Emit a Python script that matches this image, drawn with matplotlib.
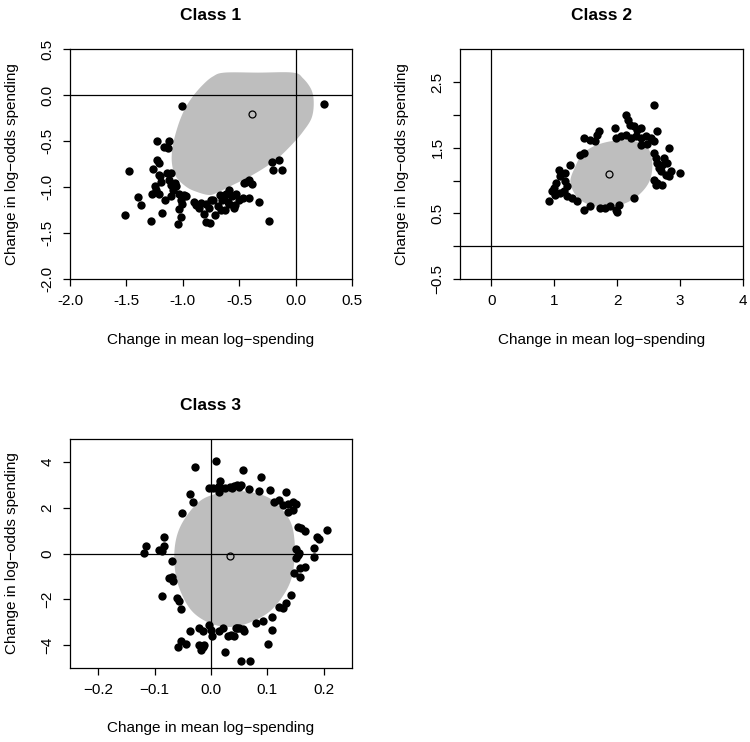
import numpy as np
import matplotlib
matplotlib.use("Agg")
import matplotlib.pyplot as plt

plt.rcParams['font.family'] = ['Liberation Sans', 'DejaVu Sans']

# ---- Class 1 ----
c1_x = [-1.51, -1.48, -1.40, -1.37, -1.28, -1.27, -1.26, -1.23, -1.23, -1.21,
        -1.25, -1.24, -1.21, -1.21, -1.19, -1.18, -1.17, -1.16, -1.13, -1.12,
        -1.14, -1.12, -1.10, -1.09, -1.10, -1.07, -1.06, -1.01, -1.03, -1.02,
        -1.01, -1.03, -1.02, -1.04, -0.97, -0.90, -0.88, -0.86, -0.84, -0.81,
        -0.79, -0.76, -0.79, -0.77, -0.73, -0.71, -0.69, -0.67, -0.65, -0.63,
        -0.62, -0.59, -0.56, -0.59, -0.54, -0.53, -0.50, -0.47, -0.55, -0.46,
        -0.44, -0.41, -0.39, -0.41, -0.32, -0.24, -0.21, -0.20, -0.15, -0.12,
        0.25, -1.10, -1.20, -0.99, -0.75, -0.66, -0.63, -0.60]
c1_y = [-1.30, -0.82, -1.11, -1.20, -1.37, -1.07, -0.80, -0.50, -0.71, -0.74,
        -0.99, -1.03, -1.07, -0.87, -0.94, -1.28, -0.56, -1.14, -0.57, -0.50,
        -0.85, -0.92, -0.98, -1.03, -1.10, -0.95, -0.99, -0.12, -1.07, -1.14,
        -1.18, -1.24, -1.33, -1.40, -1.10, -1.16, -1.19, -1.23, -1.17, -1.29,
        -1.38, -1.39, -1.18, -1.23, -1.14, -1.30, -1.21, -1.09, -1.14, -1.25,
        -1.07, -1.18, -1.10, -1.03, -1.19, -1.07, -1.14, -1.12, -1.23, -0.95,
        -0.94, -0.92, -0.97, -1.12, -1.16, -1.37, -0.73, -0.81, -0.70, -0.81,
        -0.10, -0.85, -0.88, -1.09, -1.14, -1.25, -1.09, -1.16]
c1_center = (-0.39, -0.20)
c1_region_x = [-0.630, -0.33, -0.022, 0.066, 0.141, 0.161, 0.141, 0.066, -0.022,
               -0.141, -0.260, -0.408, -0.556, -0.675, -0.764, -0.882, -0.971,
               -1.060, -1.096, -1.090, -1.045, -0.986, -0.912, -0.823, -0.734]
c1_region_y = [0.246, 0.246, 0.246, 0.184, 0.057, -0.088, -0.251, -0.396, -0.523,
               -0.668, -0.777, -0.886, -0.977, -1.049, -1.086, -1.049, -0.995,
               -0.886, -0.741, -0.560, -0.342, -0.160, -0.015, 0.112, 0.203]

# ---- Class 2 ----
c2_x = [2.589, 2.136, 2.173, 2.205, 2.269, 2.322, 2.375, 1.960, 2.642, 1.710,
        1.683, 1.470, 1.577, 1.656, 1.976, 2.056, 2.136, 2.216, 2.296, 2.375,
        2.455, 2.535, 2.375, 2.482, 2.589, 2.828, 2.589, 2.615, 2.642, 2.748,
        2.802, 2.722, 2.668, 2.695, 2.775, 2.855, 3.004, 2.828, 2.589, 2.642,
        2.615, 2.722, 1.417, 1.470, 1.257, 1.071, 1.097, 1.033, 0.991, 1.177,
        1.177, 1.204, 1.150, 0.964, 1.017, 1.097, 1.204, 1.284, 1.364, 0.911,
        1.470, 1.577, 1.736, 1.816, 1.896, 1.976, 2.029, 2.269, 2.003]
c2_y = [2.149, 2.006, 1.929, 1.853, 1.828, 1.777, 1.802, 1.802, 1.751, 1.751,
        1.700, 1.649, 1.624, 1.598, 1.649, 1.675, 1.700, 1.649, 1.675, 1.649,
        1.675, 1.649, 1.547, 1.558, 1.598, 1.496, 1.420, 1.344, 1.267, 1.344,
        1.267, 1.242, 1.191, 1.140, 1.089, 1.140, 1.114, 1.063, 1.012, 0.962,
        0.936, 0.936, 1.395, 1.420, 1.242, 1.165, 1.063, 0.962, 0.885, 1.114,
        0.987, 0.911, 0.834, 0.834, 0.783, 0.809, 0.758, 0.732, 0.681, 0.681,
        0.554, 0.605, 0.579, 0.579, 0.605, 0.554, 0.630, 0.732, 0.528]
c2_center = (1.88, 1.10)
c2_region_x = [1.257, 1.337, 1.443, 1.630, 1.896, 2.162, 2.375, 2.509, 2.562,
               2.535, 2.429, 2.242, 2.003, 1.736, 1.497, 1.337]
c2_region_y = [0.987, 1.216, 1.395, 1.522, 1.598, 1.614, 1.573, 1.471, 1.267,
               1.038, 0.860, 0.707, 0.615, 0.595, 0.656, 0.783]

# ---- Class 3 ----
c3_x = [-0.118, -0.115, -0.092, -0.087, -0.083, -0.084, -0.069, -0.074, -0.069, -0.068,
        -0.086, -0.061, -0.057, -0.053, -0.052, -0.037, -0.031, -0.028, -0.038, -0.021,
        -0.015, -0.003, 0.000, 0.002, 0.015, 0.021, 0.030, 0.041, 0.047, -0.053,
        -0.044, -0.059, -0.021, -0.014, -0.018, -0.012, 0.025, 0.009, 0.016, 0.015,
        0.024, 0.033, 0.041, 0.047, -0.003, 0.004, 0.015, 0.057, 0.089, 0.053,
        0.038, 0.050, 0.068, 0.085, 0.105, 0.133, 0.112, 0.121, 0.127, 0.136,
        0.145, 0.150, 0.136, 0.145, 0.154, 0.160, 0.166, 0.205, 0.188, 0.192,
        0.151, 0.183, 0.154, 0.151, 0.156, 0.183, 0.157, 0.166, 0.148, 0.157,
        0.142, 0.133, 0.127, 0.120, 0.109, 0.093, 0.079, 0.108, 0.101, 0.044,
        0.050, 0.056, 0.059, 0.036, 0.053, 0.069]
c3_y = [0.04, 0.31, 0.16, 0.09, 0.35, 0.71, -0.32, -1.08, -1.01, -1.20,
        -1.84, -1.95, -2.07, -2.42, 1.79, 2.59, 2.24, 3.80, -3.38, -3.24,
        -3.41, -3.15, -3.34, -3.63, -3.38, -3.27, -3.63, -3.63, -3.27, -3.85,
        -3.97, -4.11, -4.02, -4.11, -4.21, -3.99, -4.29, 4.07, 3.18, 2.97,
        2.86, 2.93, 2.97, 3.00, 2.86, 2.89, 2.68, 3.67, 3.37, 3.00,
        2.86, 2.93, 2.83, 2.74, 2.78, 2.68, 2.27, 2.35, 2.13, 2.16,
        2.27, 2.17, 1.81, 1.91, 1.18, 1.11, 0.99, 1.03, 0.74, 0.64,
        0.20, 0.23, -0.06, -0.20, 0.01, -0.13, -0.64, -0.61, -0.86, -1.01,
        -1.81, -2.17, -2.39, -2.36, -2.80, -2.97, -3.05, -3.34, -3.97, -3.24,
        -3.27, -3.29, -3.41, -3.56, -4.72, -4.72]
c3_center = (0.034, -0.09)
c3_region_x = [0.0355, 0.074, 0.104, 0.127, 0.142, 0.148, 0.148, 0.142, 0.127, 0.104,
               0.074, 0.044, 0.018, -0.009, -0.033, -0.050, -0.062, -0.065, -0.059,
               -0.044, -0.021, 0.003]
c3_region_y = [2.74, 2.67, 2.42, 1.91, 1.33, 0.60, -0.28, -1.15, -1.88, -2.54,
               -2.97, -3.19, -3.19, -2.97, -2.54, -1.88, -1.01, 0.01, 0.89,
               1.62, 2.27, 2.57]

titles = ["Class 1", "Class 2", "Class 3"]
xlabel = "Change in mean log\u2212spending"
ylabel = "Change in log\u2212odds spending"


def smooth_closed(xs, ys, n=12):
    # closed Catmull-Rom curve through the outline vertices
    p = np.column_stack([xs, ys])
    m = len(p)
    out = []
    for i in range(m):
        p0, p1, p2, p3 = p[i - 1], p[i], p[(i + 1) % m], p[(i + 2) % m]
        for t in np.linspace(0, 1, n, endpoint=False):
            out.append(0.5 * (2 * p1 + (-p0 + p2) * t
                              + (2 * p0 - 5 * p1 + 4 * p2 - p3) * t ** 2
                              + (-p0 + 3 * p1 - 3 * p2 + p3) * t ** 3))
    return np.array(out)


def panel(ax, px, py, center, rx, ry, title, xlim, ylim, xticks, xlabs, yticks, ylabs):
    shape = smooth_closed(rx, ry)
    ax.fill(shape[:, 0], shape[:, 1], color='#BEBEBE', lw=0, zorder=1)
    ax.axhline(0, color='black', lw=0.9, zorder=2)
    ax.axvline(0, color='black', lw=0.9, zorder=2)
    ax.scatter(px, py, s=36, c='black', linewidths=0, zorder=3)
    ax.plot([center[0]], [center[1]], marker='o', ms=5, mfc='none', mec='black',
            mew=0.9, zorder=4)
    ax.set_xlim(*xlim)
    ax.set_ylim(*ylim)
    ax.set_xticks(xticks, xlabs)
    ax.set_yticks(yticks, ylabs)
    for lab in ax.get_yticklabels():
        lab.set_rotation(90)
        lab.set_va('center')
    ax.tick_params(length=5, width=0.9, pad=6, labelsize=11, color='black')
    for s in ax.spines.values():
        s.set_linewidth(0.9)
    ax.set_title(title, fontsize=12.5, fontweight='bold', pad=0, y=1.148, va='center')
    ax.set_xlabel(xlabel, fontsize=11, va='center')
    ax.set_ylabel(ylabel, fontsize=11, va='center')
    ax.xaxis.set_label_coords(0.5, -0.266)
    ax.yaxis.set_label_coords(-0.205, 0.5)


fig = plt.figure(figsize=(7.5, 7.42), dpi=100)
ax1 = fig.add_axes([0.0933, 0.6240, 0.376, 0.3096])
ax2 = fig.add_axes([0.6133, 0.6240, 0.3769, 0.3096])
ax3 = fig.add_axes([0.0933, 0.1001, 0.376, 0.3078])

t1 = [-2.0, -1.5, -1.0, -0.5, 0.0, 0.5]
panel(ax1, c1_x, c1_y, c1_center, c1_region_x, c1_region_y, titles[0],
      (-2.0, 0.5), (-2.0, 0.5), t1, [f"{v:.1f}" for v in t1], t1, [f"{v:.1f}" for v in t1])

x2 = [0, 1, 2, 3, 4]
y2 = [-0.5, 0.0, 0.5, 1.0, 1.5, 2.0, 2.5]
y2_labs = ["\u22120.5", "", "0.5", "", "1.5", "", "2.5"]
panel(ax2, c2_x, c2_y, c2_center, c2_region_x, c2_region_y, titles[1],
      (-0.5, 4.0), (-0.5, 3.0), x2, [str(v) for v in x2], y2, y2_labs)

x3 = [-0.2, -0.1, 0.0, 0.1, 0.2]
y3 = [-4, -2, 0, 2, 4]
panel(ax3, c3_x, c3_y, c3_center, c3_region_x, c3_region_y, titles[2],
      (-0.25, 0.25), (-5, 5), x3, [f"{v:.1f}".replace("-", "\u2212") for v in x3],
      y3, [str(v).replace("-", "\u2212") for v in y3])

fig.savefig("out.png", dpi=100)
